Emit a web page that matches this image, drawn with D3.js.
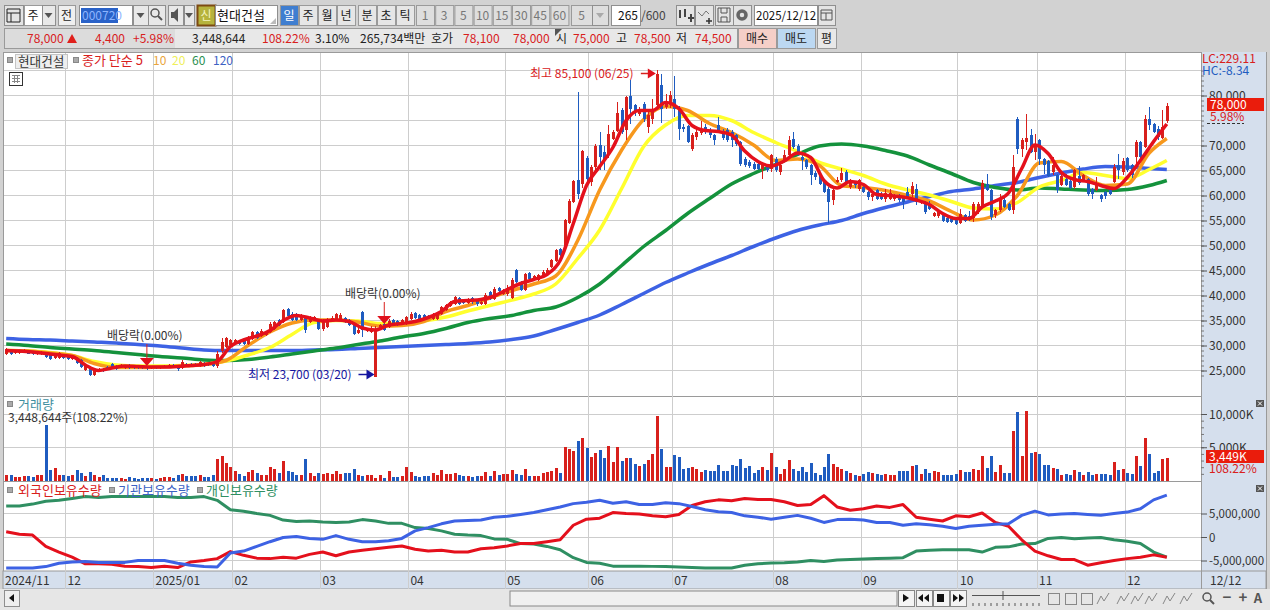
<!DOCTYPE html>
<html>
<head>
<meta charset="utf-8">
<script src="https://cdn.jsdelivr.net/npm/d3@7"></script>
<style>
  html, body { margin: 0; padding: 0; background: #d0d0d0; overflow: hidden; }
  text { font-family: "Noto Sans CJK KR", "Noto Sans", sans-serif; font-size: 12px; }
</style>
</head>
<body>
<svg id="chart" width="1270" height="610"></svg>
<script>
// prices in thousands of won, one entry per session
const opens = [
  28.3,29,28.5,28.5,28.6,29,28.6,28.3,28.4,28.3,
  28.1,27.6,27.6,28.1,27.9,27.4,27.5,27.1,25.1,25.4,
  24.1,25.2,25.4,25.8,26.3,26,25.7,25.5,26.1,25.8,
  25.8,25.7,25.7,25.6,25.7,25.5,25.7,25.8,26.1,25.9,
  25.5,26.4,26.3,26.3,25.9,26.6,26.4,26.6,25.9,29,
  29.8,30.1,30.3,31,31.4,30.4,31.4,32.8,31.9,32.1,
  32.8,33.4,35.1,34.8,37.4,36.4,36.4,35.1,35.8,34.8,
  35.1,35.1,33.4,33.8,35.2,35.1,35.1,35.6,35.2,34.1,
  32.6,36.8,33,32.8,23.7,33.4,34.4,33.8,35.1,35,
  34.3,34.4,35.4,36.6,36.1,36.1,36,35.4,35.4,36.4,
  37.1,37.9,38.3,39.6,39.2,38.6,39.6,39,38.3,38.4,
  40.8,39.4,41.6,40.3,40.4,39.6,45.1,42.8,41.2,44.6,
  43.1,43.1,43.9,44.3,45.8,47,49.4,50,54.6,58.8,
  63.1,62.4,67.6,62.8,65.8,70.1,68.8,68.1,71.4,73,
  77.1,73.1,79.9,78.1,76.4,78.4,73.8,75.4,78.1,82.1,
  77.8,78.4,79.4,77.4,73.8,73.9,69.4,71.8,72.6,73.8,
  73.1,72.1,74.1,73,73.1,72.8,72.1,70.8,67.4,66.8,
  66.4,66.4,65.4,66.1,65.4,67.4,64.8,67.1,68.1,71.4,
  70,67.8,67.1,66.1,64.6,63.9,63.1,61.4,59.1,62.8,
  63.1,64.8,61.8,62.8,61.4,61.8,60.8,59.8,61.1,60.4,
  59.4,59.4,59.4,60.1,59.8,60.8,60.4,61.4,58.6,58.8,
  58.3,55.9,55.9,56.4,55.6,55.4,55.2,54.6,56.1,55.9,
  55.6,56.8,57.8,62.4,61.1,56.1,57.1,59.1,58.4,57.1,
  75.4,69.4,70.8,72.1,68.8,71.1,67.4,67,64.8,64.1,
  62.1,63.4,63,61.8,63.9,63.1,63.4,61.4,61.1,60.1,
  60.8,61.1,62.8,66.1,64.8,67.6,66.1,67.8,70.8,69.8,
  75.4,74.3,73.4,71.6,75
];
const closes = [
  29.3,28.3,28.9,28.8,29.2,28.4,28.3,28.7,28.8,27.7,
  27.3,28.2,28.5,27.5,27.4,27.9,26.6,25.8,25.9,24.1,
  25.4,25.4,25,25.4,25.6,25.4,26.1,26,25.6,25.6,
  25.6,25.5,25.6,25.8,25.5,25.7,25.9,26.1,25.7,25.3,
  26.8,25.9,25.9,25.9,26.8,26,26.1,25.9,28.4,30.8,
  31.6,31.1,31.1,30.3,30.4,31.8,32.8,31.6,33,32.8,
  34.4,34.8,34.1,37.2,35.9,35.2,35.2,36.1,33.1,35.6,
  35.8,33.4,35.1,35.4,35.6,36.4,36.1,34.8,34.1,32.4,
  33.1,33.1,33.4,33.6,33.1,34.1,33.2,35,34.1,34.1,
  35.1,35.8,36.4,35.5,35.4,35.4,35.5,36.2,36.3,37.8,
  38.2,38.8,39.8,38.4,38.6,39.4,38.8,38.3,38.8,40.1,
  39.4,41.4,41,41.1,41.6,43.2,42.8,41.2,44.3,43.4,
  43.9,44.1,44.8,45.2,47.1,49.2,48.1,55.1,59,63,
  60.4,69,63.4,65.8,69.9,67.8,67.1,72.3,72.8,76.6,
  72.8,79.8,77.4,76.8,77.4,75.4,76.1,76.8,84.4,77.4,
  78.8,80.1,77.4,73.4,73.4,70.8,72.1,72.8,73.4,72.8,
  72.1,71.1,73,71.6,71.1,71.1,70.4,66.4,66.1,65.9,
  65.4,65.4,66.3,65.1,68.1,65.1,66.1,68.1,71.1,69.8,
  68.4,67.1,65.8,64.1,63.8,62.4,60.8,58.8,61.2,63.1,
  64.6,62.4,63.1,62.1,63.1,60.8,59.8,60.4,59.4,59.4,
  60.6,60.6,60.1,59.1,58.8,59.8,61.9,58.8,59,56.8,
  57.4,56.6,56.8,55,54.8,54.8,54.3,56.4,55,55.1,
  58.4,58.3,62.6,61.1,55.8,57.2,59.4,57.8,57.1,65.8,
  69.4,71.2,71.6,68.8,70.1,67.4,66.1,63.9,66.1,61.1,
  63.9,62.1,61.6,65.1,62.6,64.1,60.4,60.4,62.4,59.4,
  59.9,60.4,65.8,65.1,67,65.1,64.1,70.8,67.8,75.4,
  74.1,72.8,71.8,73.8,78
];
const highs = [
  29.5,29.2,29.1,29,29.4,29.1,28.8,28.9,29,28.5,
  28.3,28.4,28.7,28.3,28.1,28.1,27.7,27.3,26.4,25.6,
  25.6,25.6,25.6,26,26.5,26.2,26.3,26.2,26.3,26,
  26,25.9,26,26,25.9,25.9,26.1,26.3,26.3,26.1,
  27.1,26.6,26.5,26.5,27,26.8,26.6,26.8,28.9,31.5,
  31.8,31.3,31.3,31.2,31.6,32,33,33,33.3,33,
  34.7,35,35.4,37.4,37.6,36.7,36.6,36.3,36,35.9,
  36,35.3,35.3,35.6,35.9,36.6,36.5,35.8,35.4,34.3,
  33.5,36.9,33.6,33.9,34,34.3,34.6,35.3,35.3,35.2,
  35.3,36,36.7,36.8,36.3,36.3,36.2,36.5,36.5,38,
  38.4,39,40,39.8,39.4,39.6,39.8,39.2,39,40.5,
  41,41.7,41.8,41.3,42.1,43.6,45.3,43,44.5,44.8,
  44.2,44.3,45.2,45.6,47.3,49.4,49.6,55.3,59.3,63.2,
  80.8,69.2,68,66.2,70.3,72.8,70,74.1,73.2,78.8,
  77.5,80,83.2,78.4,77.8,78.8,77.4,79.4,85.1,84.4,
  80.4,81,84,78,74.4,74.2,72.5,73.4,74.9,74.4,
  73.6,72.4,75.8,73.4,73.6,73.1,72.4,71,67.8,67.1,
  66.8,66.6,66.5,66.4,68.4,67.8,66.3,69.1,71.9,72.7,
  70.3,68.8,67.4,66.4,65,64.2,63.4,61.8,61.4,63.8,
  65.6,65.2,63.4,63,63.3,62,61,60.6,61.4,60.8,
  61.4,61.4,60.4,60.4,60,61.8,62.8,62.4,59.2,59,
  59,56.8,57,56.6,55.9,55.7,55.4,57.4,56.4,57,
  58.8,58.8,63.1,64.3,61.4,57.4,60.4,59.8,58.6,68.1,
  75.8,71.6,76.4,73.4,72.4,71.3,67.6,67.2,67.8,64.3,
  64.3,64.3,63.4,65.3,65.9,64.4,63.6,61.6,63.8,60.3,
  61,61.3,66.4,68.3,67.6,67.8,66.4,71.1,71,76.1,
  77.8,74.5,73.9,77.2,78.5
];
const lows = [
  28.1,28.1,28.4,28.3,28.5,28.3,28.2,28.1,28.2,27.5,
  27.1,27.4,27.4,27.3,27.2,27.2,26.4,25.6,24.9,24,
  23.9,25,24.8,25.2,25.4,25.2,25.5,25.3,25.4,25.4,
  25.4,25.3,25.1,25.4,25.3,25.3,25.5,25.6,25.5,25,
  25.3,25.7,25.7,25.7,25.7,25.8,25.9,25.7,25.6,28.5,
  29.6,29.9,30.1,30.1,30.2,30.2,31.2,31.4,31.7,31.9,
  32.6,33.2,33.9,34.6,35.7,35,35,34.9,32.6,34.6,
  34.9,33.2,33,33.6,35,34.9,34.9,34.6,33.9,32.2,
  32.3,31.8,32.8,32.6,23.7,33.2,33,33.6,33.9,33.9,
  34.1,34.2,35.2,35.3,35.1,35.2,35.3,35.2,35.2,36.2,
  36.9,37.7,38.1,38.2,38.4,38.4,38.4,37.9,38.1,38.2,
  39.2,39.2,40.6,40.1,39.9,39.3,42.5,41,41,43.2,
  42.9,42.9,43.7,44.1,45.6,46.8,47.9,49.8,54.4,58.5,
  59.4,61.5,62.8,62,65.2,65.1,65.1,67.6,71.1,72.8,
  72.3,71.1,74.4,76,76,74.8,72.6,74.4,77.6,74.6,
  77.4,77.6,75.8,71.1,72.8,70.6,69,71.2,72.2,72.4,
  71.6,70.1,72.7,71.2,70.7,69.8,70,65.9,65.8,65.5,
  65.1,65.1,63.4,64.7,64.8,64.8,64.1,66.9,67.8,69.4,
  68,65.1,65.4,62.1,63.1,62.1,60.5,54.6,58.1,62.6,
  62.8,62.1,61.4,61.5,60.9,60.5,59.2,59,59.1,59.1,
  58.8,59.1,59,58.8,57.4,59.6,59.8,58.1,58.3,56.3,
  57.2,55.7,55.6,54.8,54.6,54.6,54.1,54.4,54.8,54.9,
  54.8,56.4,57.5,61,55.1,55.6,56.8,57.6,56.9,56.4,
  68.4,67.8,69.1,68.6,67.1,66.1,64.4,63.8,64.2,60.6,
  61.9,61.9,61.4,61.4,62.1,62.8,59.9,59.4,60.9,58.8,
  59.4,60.1,62.6,63.4,64.1,64.8,63.6,66.4,67.5,69.5,
  73.1,72.6,71.1,71.3,74.5
];
// volume in thousands of shares
const volumes = [
  900,800,550,500,700,750,500,900,900,8400,
  1650,1950,800,900,650,800,1650,1100,700,1250,
  800,600,900,400,400,400,400,300,550,400,
  300,350,400,450,300,450,500,550,400,800,
  1000,650,650,650,900,600,500,800,3300,3700,
  2600,2100,1500,1000,700,1300,1600,1100,900,800,
  2100,1700,1100,3000,1500,1350,900,900,3300,1200,
  700,1200,1000,1200,1000,1400,1000,1200,1200,1800,
  800,750,800,800,450,900,450,1500,600,600,
  750,2000,1250,700,600,700,750,1150,900,1600,
  1050,1050,1200,850,700,700,600,700,700,1300,
  700,1450,850,1000,1000,1600,1000,850,1750,700,
  700,700,1150,1300,1500,1900,1150,5050,4750,4450,
  6000,6400,4900,3550,4150,4600,3400,5200,2800,5050,
  2950,3400,3400,2500,2200,2500,3100,4000,9700,4750,
  2050,2050,3850,3550,1800,1900,2050,1750,1300,1600,
  1450,1450,2350,1450,1450,2350,2200,3250,1900,2200,
  1150,1600,2050,1600,4150,2050,1000,1750,3100,1750,
  1450,2050,1300,2650,1150,850,2050,4000,2500,2050,
  1750,1400,1150,850,750,1000,1300,1150,1000,900,
  1000,900,850,1450,1450,1450,2200,2350,1000,1750,
  1150,1400,1300,850,850,800,1000,1600,1300,1300,
  1750,1600,3700,1900,3700,1300,2350,1150,1150,7500,
  10350,3700,10500,4150,4300,4000,2350,2350,1900,1750,
  850,1000,850,1600,1300,850,1300,850,1000,1000,
  1000,850,2800,1600,1750,1150,1000,3700,2200,6400,
  4000,1150,1450,3250,3449
];

// moving averages, read every 5 sessions (the last one is the final session)
const maDays = [0,5,10,15,20,25,30,35,40,45,50,55,60,65,70,75,80,85,90,95,100,105,110,115,120,125,130,135,140,145,150,155,160,165,170,175,180,185,190,195,200,205,210,215,220,225,230,235,240,245,250,255,260,264];
const ma10 = [29,28.9,28.5,28,26.4,25.6,25.6,25.7,25.9,26.2,27,30,32.7,34.5,35.1,35.1,34.7,33.9,34,34.8,36.8,38,39.5,41,42.3,43.9,51,61.1,69.1,75.2,77.8,77,74.4,72.6,70.1,67,67.3,66,62,61.6,61,60,58.9,56.8,55.1,56.1,60,66.5,66.8,64,62,62.3,68.5,71.4];
const ma20 = [29,28.9,28.6,28,26.8,26.1,25.9,25.9,26,26.2,26.9,28.1,29.6,32.2,34.6,35,34.9,34.4,34.4,34.9,35.7,36.9,38,39.1,40.3,42.3,47.4,53.1,61.4,69.8,74.1,76,76,75,72.6,70.6,68.8,66.6,65.3,64,62.3,61.1,60.1,58.8,57.5,57.3,58.6,61.7,63,64.6,64,63.4,65.2,67];
const ma60 = [30.3,30,29.6,29.3,29,28.6,28.2,27.8,27.5,27.1,27,27.2,27.7,28.3,28.9,29.5,30.2,30.9,31.7,32.4,33.4,34.6,35.4,36,37,37.7,39.6,42.3,46,49.8,53,56.4,59.4,62.3,64.4,66.2,68.2,69.9,70.3,69.9,69,67.9,66.1,64.4,62.6,61.6,61.1,61.5,61.3,61.1,61,61.2,62,63];
const ma120 = [31.4,31.2,31.1,30.9,30.7,30.5,30.2,29.9,29.5,29.1,29,29,29,29,29.1,29.2,29.4,29.6,29.8,30,30.2,30.4,30.7,31.2,31.9,33.2,34.6,36.1,38.2,40.4,42.6,44.5,46.3,48,49.8,51.5,53,54.1,55,56.4,57.6,58.7,59.8,60.8,61.3,62,62.6,63.6,64.5,65.3,65.8,65.7,65.4,65.2];

// finer series, read every 3 sessions
const fineDays = [0,3,6,9,12,15,18,21,24,27,30,33,36,39,42,45,48,51,54,57,60,63,66,69,72,75,78,81,84,87,90,93,96,99,102,105,108,111,114,117,120,123,126,129,132,135,138,141,144,147,150,153,156,159,162,165,168,171,174,177,180,183,186,189,192,195,198,201,204,207,210,213,216,219,222,225,228,231,234,237,240,243,246,249,252,255,258,261,264];
const ma5 = [29,28.9,28.7,28.4,28.1,27.8,26.1,25,25.5,25.9,25.8,25.7,25.7,25.8,26,26.2,26.8,29.8,31.1,31.9,33,35,36,35.5,34.9,35.1,34.8,33.5,33.1,34.1,34.4,34.8,35.6,36.8,38.8,39,39.2,39.9,41.2,42.4,43.2,44.2,47,54.4,62,65.8,69.6,75,77,77,78.6,77.4,74,73,72.8,72.1,68.9,66.8,65.9,66.9,68.5,67.6,63,61.5,62.8,62.2,60.2,60,59.7,59.1,58.2,56.4,55.4,55.4,57.7,58.9,60.5,65.4,70.1,68.4,64.6,63.2,62.8,62,61.4,63.6,67,70.8,74.3];
// holdings in millions of shares
const foreignHold = [1.1,.6,.4,-2,-3.2,-4.3,-5.7,-5.7,-5.8,-6.2,-6.3,-6.5,-6.2,-6.5,-5.3,-5,-4.6,-3.1,-3.9,-4.5,-4.6,-4.3,-4.5,-3.7,-3.2,-4,-3.2,-2.8,-2.5,-2.2,-1.9,-2.6,-3,-2.8,-3.2,-3.2,-2.5,-2.3,-1.9,-1.4,-1.4,-1,-.6,2.5,3.8,4,5.2,5,4.9,4.5,4.3,4.8,6.7,7.5,7.9,7.7,8.2,8,8,7.5,6.7,6.9,8.8,6.4,5.7,6,6.6,6.3,6.9,4.2,3.8,3.4,4.5,4.3,5.1,3.1,2.3,-.6,-3,-4,-4.8,-4.8,-6,-5.5,-5,-4.6,-4.3,-3.8,-4.3];
const institutionHold = [-6.6,-6.6,-6.6,-6.3,-5.6,-5.3,-5.2,-5.4,-5.4,-5.4,-5,-5,-5,-5.6,-6,-6.3,-6.4,-3.4,-3,-2,-1,-.1,.1,-.3,-.5,.3,-.5,-1,-1,-.8,-.3,1.3,2,2.8,3.4,3.5,3.6,4.2,4.4,4.8,5.2,5.8,6.4,7.1,7.4,7.8,7.2,7.5,6.9,6.9,7.3,7.1,6.5,5.8,5.35,5.2,4.5,4.2,3.8,4.2,4.6,4,3.1,3.7,3.8,3.6,3.1,3.1,2.5,2.8,2.6,2.3,1.8,2.3,2.5,2.7,2.8,4.6,5.5,4.7,4.9,5,4.8,4.65,5,5.3,6,7.9,8.9];
const individualHold = [6.6,6.6,7,7.6,7.8,8.2,8.6,8.4,8.6,8.6,8.6,8.6,8.6,8.4,8.4,8.6,7.8,5.8,5.5,5,4.6,3.6,3.3,3.4,3.2,3.1,3.2,3.7,3.4,2.9,2.9,2,1.8,1.3,.6,.4,.3,-.4,-.5,-1.4,-1.5,-2,-2.7,-4.4,-5.4,-5.6,-6.2,-6.2,-6.2,-6.25,-6.3,-6.4,-6.5,-6.6,-6.6,-6.6,-6,-5.7,-5.55,-5.5,-5.3,-5,-5.2,-4.9,-4.8,-4.7,-4.6,-4.5,-4.4,-3,-2.8,-2.7,-2.7,-2.7,-3.2,-2.2,-2.1,-1.5,-1.4,-.3,-.1,-.35,-.2,-.1,-.6,-.9,-1.4,-3.2,-4.3];

const monthDays = [14,34,52,72,92,114,133,152,175,195,217,235,255];
const monthLabels = ["12","2025/01","02","03","04","05","06","07","08","09","10","11","12"];
const priceTicks = [25,30,35,40,45,50,55,60,65,70,80];
const priceGrid = [25,30,35,40,45,50,55,60,65,70,75,80,85];
const volumeTicks = [5000,10000];
const holdTicks = [-5,0,5];

const RED = "#d8201c", BLUE = "#1f5cc0";
const svg = d3.select("#chart");
const n = closes.length;

const x = d3.scaleBand().domain(d3.range(n)).range([4, 1169]);
const xc = i => x(i) + x.bandwidth() / 2;
const yPrice = d3.scaleLinear().domain([25, 80]).range([370.5, 95.5]);
const yVol = d3.scaleLinear().domain([0, 10000]).range([480.5, 414]);
const yHold = d3.scaleLinear().domain([-5, 5]).range([560.5, 513.5]);

// small drawing helpers for the window chrome
function box(xp, yp, w, h, fill, stroke) {
  return svg.append("rect").attr("x", xp + .5).attr("y", yp + .5).attr("width", w).attr("height", h)
    .attr("fill", fill || "#e8e8e8").attr("stroke", stroke || "#8f8f8f");
}
function label(xp, yp, str, color, anchor, size) {
  return svg.append("text").attr("x", xp).attr("y", yp).text(str)
    .attr("fill", color || "#222").attr("text-anchor", anchor || "start")
    .style("font-size", (size || 12) + "px");
}
function button(xp, yp, w, h, str, fill, color) {
  box(xp, yp, w, h, fill, "#9a9a9a");
  label(xp + w / 2, yp + h / 2 + 4.5, str, color, "middle");
}
function dropArrow(cx, cy, color) {
  svg.append("path").attr("d", `M${cx - 4},${cy - 2}h8l-4,5z`).attr("fill", color || "#555");
}

// background and panels
svg.append("rect").attr("width", 1270).attr("height", 610).attr("fill", "#d2d2d2");
box(3, 52, 1198, 344, "#fff", "#9a9a9a");
box(3, 396, 1198, 85, "#fff", "#9a9a9a");
box(3, 481, 1198, 90, "#fff", "#9a9a9a");
svg.append("rect").attr("x", 1201).attr("y", 52).attr("width", 65).attr("height", 519).attr("fill", "#d5dfed");
svg.append("rect").attr("x", 3).attr("y", 571).attr("width", 1263).attr("height", 18).attr("fill", "#d5dfed").attr("stroke", "#9a9a9a");
svg.append("path").attr("d", "M1266.5,52V589").attr("stroke", "#9a9a9a");
svg.append("path").attr("d", "M1201.5,52V589").attr("stroke", "#9a9a9a");

// grid
const grid = svg.append("g").attr("stroke", "#cdcdcd").attr("shape-rendering", "crispEdges");
monthDays.forEach(d => grid.append("line").attr("x1", x(d)).attr("x2", x(d)).attr("y1", 53).attr("y2", 589));
priceGrid.forEach(p => grid.append("line").attr("x1", 4).attr("x2", 1201).attr("y1", Math.floor(yPrice(p)) + .5).attr("y2", Math.floor(yPrice(p)) + .5));
volumeTicks.forEach(v => grid.append("line").attr("x1", 4).attr("x2", 1201).attr("y1", Math.floor(yVol(v)) + .5).attr("y2", Math.floor(yVol(v)) + .5));
holdTicks.forEach(v => grid.append("line").attr("x1", 4).attr("x2", 1201).attr("y1", Math.floor(yHold(v)) + .5).attr("y2", Math.floor(yHold(v)) + .5));

// moving averages
const maLine = d3.line().x(d => xc(d[0])).y(d => yPrice(d[1])).curve(d3.curveMonotoneX);
function drawMa(days, values, color) {
  svg.append("path").datum(days.map((d, i) => [d, values[i]])).attr("d", maLine)
    .attr("fill", "none").attr("stroke", color).attr("stroke-width", 3.5).attr("stroke-linejoin", "round");
}
drawMa(maDays, ma120, "#3d62e4");
drawMa(maDays, ma60, "#14923c");
drawMa(maDays, ma20, "#ffff2e");
drawMa(maDays, ma10, "#f7981d");

// candles
const days = d3.range(n);
const candleColor = i => closes[i] >= opens[i] ? RED : BLUE;
const candles = svg.append("g").attr("shape-rendering", "crispEdges");
candles.selectAll("line").data(days).enter().append("line")
  .attr("x1", i => Math.round(xc(i)) + .5).attr("x2", i => Math.round(xc(i)) + .5)
  .attr("y1", i => yPrice(highs[i])).attr("y2", i => yPrice(lows[i]))
  .attr("stroke", candleColor);
candles.selectAll("rect").data(days).enter().append("rect")
  .attr("x", i => Math.round(xc(i)) - 1).attr("width", 3)
  .attr("y", i => yPrice(Math.max(opens[i], closes[i])))
  .attr("height", i => Math.max(1, Math.abs(yPrice(opens[i]) - yPrice(closes[i]))))
  .attr("fill", candleColor);

drawMa(fineDays, ma5, "#e4101c");

// volume bars
svg.append("g").attr("shape-rendering", "crispEdges").selectAll("rect").data(days).enter().append("rect")
  .attr("x", i => Math.round(xc(i)) - 1).attr("width", 3)
  .attr("y", i => yVol(volumes[i])).attr("height", i => yVol(0) - yVol(volumes[i]))
  .attr("fill", candleColor);

// holdings lines
const holdLine = d3.line().x(d => xc(d[0])).y(d => yHold(d[1]));
[[individualHold, "#2f8f62"], [foreignHold, "#e4101c"], [institutionHold, "#3d62e4"]].forEach(s => {
  svg.append("path").datum(fineDays.map((d, i) => [d, s[0][i]])).attr("d", holdLine)
    .attr("fill", "none").attr("stroke", s[1]).attr("stroke-width", 3).attr("stroke-linejoin", "round");
});

// right axes
function rightAxis(scale, ticks, fmt, minor, size) {
  const g = svg.append("g").attr("transform", "translate(1201,0)");
  if (minor) {
    g.call(d3.axisRight(scale).tickValues(minor).tickSize(3).tickFormat(""));
    g.selectAll(".tick line").attr("stroke", "#777");
    g.select(".domain").remove();
  }
  const m = svg.append("g").attr("transform", "translate(1201,0)")
    .call(d3.axisRight(scale).tickValues(ticks).tickSize(6).tickPadding(2).tickFormat(fmt));
  m.select(".domain").remove();
  m.selectAll(".tick line").attr("stroke", "#555");
  m.selectAll("text").attr("fill", "#333").style("font-size", (size || 12) + "px").attr("dy", "0.36em");
}
rightAxis(yPrice, priceTicks, d => d3.format(",")(d * 1000), d3.range(24, 86));
rightAxis(yVol, volumeTicks, d => d3.format(",")(d) + "K", d3.range(1000, 11000, 1000));
rightAxis(yHold, holdTicks, d => d3.format(",")(d * 1000000).replace("−", "-"), null, 11.5);

label(1202, 63, "LC:229.11", "#d8201c");
label(1202, 75, "HC:-8.34", "#1f5cc0");
svg.append("rect").attr("x", 1207).attr("y", 98).attr("width", 57).attr("height", 13).attr("fill", "#ea1c0c");
label(1210, 109, "78,000", "#fff");
label(1210, 121, "5.98%", "#d8201c");
svg.append("path").attr("d", "M1207,123.5H1244").attr("stroke", "#333").attr("stroke-dasharray", "3,2");
svg.append("rect").attr("x", 1206).attr("y", 450).attr("width", 58).attr("height", 13).attr("fill", "#ea1c0c");
label(1209, 461, "3,449K", "#fff");
label(1209, 473, "108.22%", "#d8201c");
[[1256, 400], [1256, 485]].forEach(p => {
  svg.append("rect").attr("x", p[0]).attr("y", p[1]).attr("width", 8).attr("height", 7).attr("fill", "#555");
  svg.append("path").attr("d", `M${p[0] + 2},${p[1] + 1.5}l4,4m0,-4l-4,4`).attr("stroke", "#fff");
});

// legends
function dot(xp, yp) { box(xp, yp, 5, 5, "#aaa", "#888"); }
dot(7, 57);
box(15, 54, 52, 14, "#eeeeee", "#c4c4c4");
label(18, 65.5, "현대건설", "#333", "start", 12.6);
dot(73, 57);
label(82, 65, "종가 단순 5", "#d8201c", "start", 13);
label(153, 65, "10", "#eaa53a");
label(172, 65, "20", "#efef5a");
label(192, 65, "60", "#2a8f50");
label(213, 65, "120", "#3d62c4");
box(9, 72, 13, 13, "#fff", "#333");
svg.append("path").attr("d", "M12,75.5H20M12,78.5H20M12,81.5H20M14.5,75V83M17.5,75V83").attr("stroke", "#888");

dot(7, 401);
label(18, 409, "거래량", "#3f8fa0", "start", 13);
label(8, 422, "3,448,644주(108.22%)", "#333");
dot(7, 487);
label(18, 495, "외국인보유수량", "#d8201c", "start", 13);
dot(109, 487);
label(118, 495, "기관보유수량", "#3d62c4", "start", 13);
dot(197, 487);
label(206, 495, "개인보유수량", "#2f8f62", "start", 13);

// price annotations
const arrowHead = (cx, cy, dir) => dir === "right"
  ? `M${cx},${cy}l-8,-5v10z` : `M${cx},${cy}l-7,-8h14z`;
const hiX = xc(148), hiY = yPrice(85.1);
label(530, hiY + 8, "최고 85,100 (06/25)", "#d8201c");
svg.append("path").attr("d", `M${hiX - 16},${hiY + 3.5}H${hiX - 3}`).attr("stroke", "#d8201c").attr("stroke-width", 1.5);
svg.append("path").attr("d", arrowHead(hiX - 1, hiY + 3.5, "right")).attr("fill", "#e0101c");
const loX = xc(84), loY = yPrice(23.7) - 2.5;
label(248, loY + 4, "최저 23,700 (03/20)", "#1414a0");
svg.append("path").attr("d", `M${loX - 17},${loY}H${loX - 3}`).attr("stroke", "#1414a0").attr("stroke-width", 1.5);
svg.append("path").attr("d", arrowHead(loX - 1, loY, "right")).attr("fill", "#1414a0");
[[32, 27.0, 107, 340], [86, 35.5, 345, 298]].forEach(a => {
  const ax = xc(a[0]);
  label(a[2], a[3], "배당락(0.00%)", "#333");
  svg.append("path").attr("d", `M${ax},${a[3] + 4}V${a[3] + 20}`).attr("stroke", "#d8201c");
  svg.append("path").attr("d", arrowHead(ax, a[3] + 26, "down")).attr("fill", "#e0101c");
});

// time band
label(5, 585, "2024/11", "#333");
monthDays.forEach((d, i) => label(x(d) + 2, 585, monthLabels[i], "#333"));
label(1210, 585, "12/12", "#333");

// toolbar row 1
box(4, 5, 19, 20, "#e4e4e4");
svg.append("path").attr("d", "M7,9h13v13h-13zM7,13h13M11,13v9").attr("fill", "none").attr("stroke", "#222");
button(24, 5, 18, 20, "주", "#fff");
box(42, 5, 13, 20); dropArrow(48.5, 15);
button(58, 5, 17, 20, "전", "#efefef");
box(79, 5, 53, 20, "#fff");
svg.append("rect").attr("x", 81).attr("y", 8).attr("width", 37).attr("height", 15).attr("fill", "#2a62c8");
label(82, 20, "000720", "#8db4ff");
box(133, 5, 15, 20); dropArrow(140.5, 15);
box(148, 5, 17, 20, "#e8e8e8");
svg.append("circle").attr("cx", 155).attr("cy", 13).attr("r", 4).attr("fill", "none").attr("stroke", "#555").attr("stroke-width", 1.5);
svg.append("path").attr("d", "M158,16l4,4").attr("stroke", "#555").attr("stroke-width", 2);
box(168, 5, 15, 20);
svg.append("path").attr("d", "M171,12h3l4,-4v14l-4,-4h-3z").attr("fill", "#555");
box(184, 5, 10, 20); dropArrow(189, 15);
box(197, 5, 18, 20, "#b6b33c", "#7d4a12").attr("stroke-width", 2);
label(206, 19.5, "신", "#f4f4c0", "middle");
box(215, 5, 62, 20, "#fff");
label(217, 19.5, "현대건설", "#111", "start", 13);
svg.append("path").attr("d", "M276,24h-6l6,-6z").attr("fill", "#bbb");
button(280, 5, 18, 20, "일", "#3f7ed0", "#fff");
[["주", 299], ["월", 318], ["년", 337], ["분", 358], ["초", 377], ["틱", 396]].forEach(b => button(b[1], 5, 18, 20, b[0], "#e6e6e6"));
["1", "3", "5", "10", "15", "30", "45", "60"].forEach((t, i) => button(416 + i * 19.2, 5, 18, 20, t, "#dedede", "#777"));
button(571, 5, 21, 20, "5", "#dedede", "#777");
box(592, 5, 16, 20, "#dedede"); dropArrow(600, 15, "#aaa");
box(611, 5, 29, 20, "#fff");
label(638, 19.5, "265", "#111", "end");
label(641, 19.5, "/600", "#444");
[676, 695, 715, 733].forEach(p => box(p, 5, 18, 20, "#e4e4e4"));
svg.append("path").attr("d", "M680,10v8M685,9v8M691,14v8M688,18h6").attr("stroke", "#444").attr("stroke-width", 2);
svg.append("path").attr("d", "M698,12l4,4l4,-5l3,3").attr("fill", "none").attr("stroke", "#777");
svg.append("path").attr("d", "M709,18v6M706,21h6").attr("stroke", "#333").attr("stroke-width", 1.5);
svg.append("path").attr("d", "M718,8h12v14h-12zM721,8v5h6v-5M721,22v-5h6v5").attr("fill", "none").attr("stroke", "#555");
svg.append("circle").attr("cx", 742).attr("cy", 15).attr("r", 4).attr("fill", "none").attr("stroke", "#666").attr("stroke-width", 3.5);
box(754, 5, 63, 20, "#fff");
label(756, 19.5, "2025/12/12", "#111", "start", 11.5);
box(818, 5, 17, 20, "#e4e4e4");
svg.append("path").attr("d", "M821,10h11v10h-11zM821,13h11M826,13v7").attr("fill", "none").attr("stroke", "#555");

// toolbar row 2
box(4, 28, 733, 20, "#e8e8e8", "#9a9a9a");
svg.append("rect").attr("x", 5).attr("y", 29).attr("width", 170).attr("height", 19).attr("fill", "#dcdcdc");
label(27, 42.5, "78,000", "#d8201c");
svg.append("path").attr("d", "M67,43l5,-9l5,9z").attr("fill", "#e0201c");
label(125, 42.5, "4,400", "#d8201c", "end");
label(174, 42.5, "+5.98%", "#d8201c", "end");
label(192, 42.5, "3,448,644", "#222");
label(262, 42.5, "108.22%", "#d8201c");
label(315, 42.5, "3.10%", "#222");
label(360, 42.5, "265,734백만", "#222");
label(431, 42.5, "호가", "#222");
label(463, 42.5, "78,100", "#d8201c");
label(513, 42.5, "78,000", "#d8201c");
svg.append("path").attr("d", "M555,29h7l-7,7z").attr("fill", "#555");
label(556, 42.5, "시", "#222");
label(573, 42.5, "75,000", "#d8201c");
label(616, 42.5, "고", "#222");
label(634, 42.5, "78,500", "#d8201c");
label(676, 42.5, "저", "#222");
label(695, 42.5, "74,500", "#d8201c");
button(738, 28, 38, 20, "매수", "#f5cfc8");
button(777, 28, 38, 20, "매도", "#bcd8f2");
button(817, 28, 19, 20, "평", "#e8e8e8");

// bottom scrollbar and tool icons
svg.append("rect").attr("x", 0).attr("y", 589).attr("width", 1270).attr("height", 21).attr("fill", "#e6e6e6");
box(4, 590, 15, 16, "#efefef");
svg.append("path").attr("d", "M14,594v8l-5,-4z").attr("fill", "#111");
svg.append("rect").attr("x", 510).attr("y", 591).attr("width", 387).attr("height", 15).attr("fill", "#f0f0f0").attr("stroke", "#888");
[[898, "M903,594v8l6,-4z"], [916, "M923,594v8l-5,-4zM929,594v8l-5,-4z"], [933, "M937,594h7v8h-7z"], [950, "M953,594v8l5,-4zM959,594v8l5,-4z"]].forEach(b => {
  box(b[0], 590, 16, 16, "#f4f4f4", "#888");
  svg.append("path").attr("d", b[1]).attr("fill", "#111");
});
svg.append("path").attr("d", "M972,595.5H1040M1003,591v9").attr("stroke", "#555");
svg.append("path").attr("d", d3.range(973, 1040, 6).map(p => `M${p},603v3`).join("")).attr("stroke", "#555");
[1048, 1065, 1081].forEach(p => box(p, 593, 11, 11, "none", "#888"));
[1102, 1122, 1136, 1150, 1168, 1185].forEach(p => {
  svg.append("path").attr("d", `M${p - 5},604l4,-8l3,5l5,-8`).attr("fill", "none").attr("stroke", "#888");
});
svg.append("circle").attr("cx", 1207).attr("cy", 597).attr("r", 4).attr("fill", "none").attr("stroke", "#555").attr("stroke-width", 1.5);
svg.append("path").attr("d", "M1210,600l4,4").attr("stroke", "#555").attr("stroke-width", 2);
label(1227, 603, "−", "#555", "middle").style("font-size", "15px").style("font-weight", 700);
label(1243, 603, "+", "#555", "middle").style("font-size", "15px").style("font-weight", 700);
label(1258, 603, "A", "#555", "middle").style("font-size", "13px").style("font-weight", 700);
</script>
</body>
</html>
